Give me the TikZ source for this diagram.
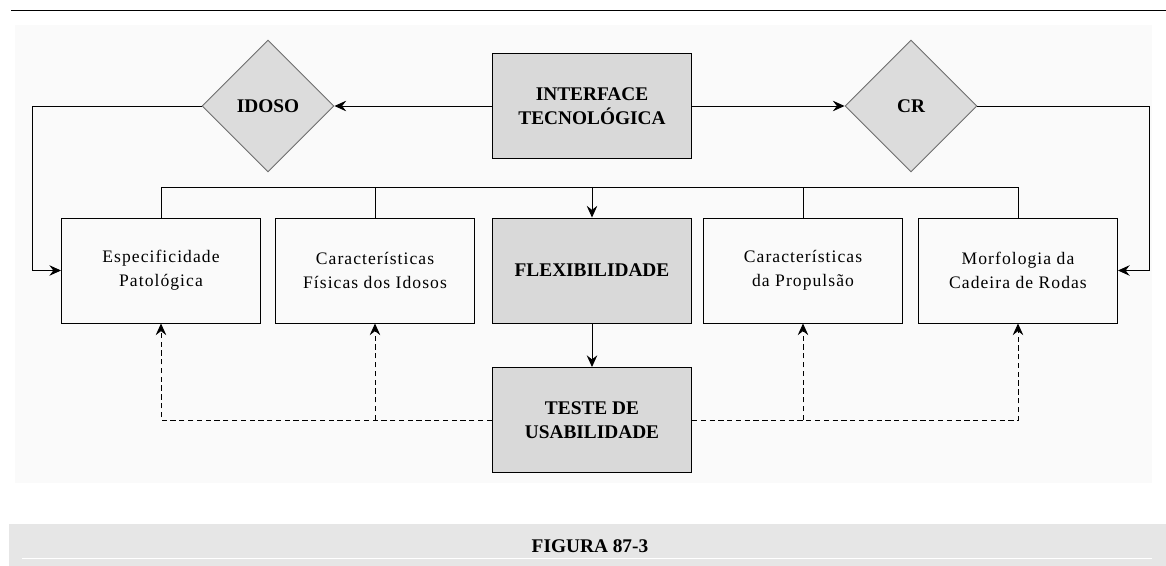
\documentclass[tikz,border=0pt]{standalone}
\usepackage{fontspec}
\setmainfont{Liberation Serif}
\newfontfamily\boxfont[LetterSpace=6]{Liberation Serif}
\usetikzlibrary{shapes.geometric,arrows.meta}
\definecolor{BoxGray}{HTML}{D9D9D9}
\definecolor{DiaFill}{HTML}{DCDCDC}
\definecolor{DiaEdge}{HTML}{6E6E6E}
\definecolor{CapGray}{HTML}{E6E6E6}

\begin{document}
\begin{tikzpicture}[
    x=0.03cm, y=-0.03cm,
    >={Stealth[length=10pt,width=9pt,inset=3.5pt]},
    line width=0.8pt,
    every node/.style={font=\boxfont\fontsize{15}{20.5}\selectfont},
    plain box/.style = {draw, rectangle, minimum width=5.97cm, minimum height=3.15cm, align=center, inner sep=2pt},
    grey box/.style  = {plain box, fill=BoxGray, font=\rmfamily\bfseries\fontsize{16.5}{21}\selectfont},
    decision/.style  = {draw=DiaEdge, diamond, fill=DiaFill, minimum width=3.96cm, minimum height=3.96cm, inner sep=0pt, font=\rmfamily\bfseries\fontsize{16.5}{21}\selectfont},
  ]
\useasboundingbox (0,0) rectangle (1166,566);

% background
\fill[black!2] (15,25) rectangle (1152,483);
\draw (11,10) -- (1166,10);

% top row
\node[grey box] (interface) at (592,106) {INTERFACE\\TECNOLÓGICA};
\node[decision] (idoso) at (268,106) {IDOSO};
\node[decision] (cr) at (911,106) {CR};

% middle row
\node[plain box] (espec)   at (161,270.5) {Especificidade\\Patológica};
\node[plain box] (fisicas) at (375,270.5) {Características\\Físicas dos Idosos};
\node[grey box]  (flex)    at (592,270.5) {FLEXIBILIDADE};
\node[plain box] (propul)  at (803,270.5) {Características\\da Propulsão};
\node[plain box] (morfo)   at (1018,270.5) {Morfologia da\\Cadeira de Rodas};

% bottom
\node[grey box] (teste) at (592,420) {TESTE DE\\USABILIDADE};

% turning points
\coordinate (leftturn)  at (32,106);
\coordinate (rightturn) at (1149,106);
\coordinate (bus)       at (592,187);

% connectors
\draw[->] (interface.west) -- (idoso.east);
\draw[->] (interface.east) -- (cr.west);
\draw[->] (idoso.west) -- (leftturn) |- (espec.west);
\draw[->] (cr.east) -- (rightturn) |- (morfo.east);

\draw (espec.north) -- (espec.north |- bus) -- (morfo.north |- bus) -- (morfo.north);
\draw (fisicas.north) -- (fisicas.north |- bus);
\draw (propul.north) -- (propul.north |- bus);
\draw[->] (bus) -- (flex.north);

\draw[->] (flex.south) -- (teste.north);

\draw[dashed, dash pattern=on 4.5pt off 3pt, ->] (teste.west) -| (espec.south);
\draw[dashed, dash pattern=on 4.5pt off 3pt, ->] (teste.west -| fisicas.south) -- (fisicas.south);
\draw[dashed, dash pattern=on 4.5pt off 3pt, ->] (teste.east) -| (morfo.south);
\draw[dashed, dash pattern=on 4.5pt off 3pt, ->] (teste.east -| propul.south) -- (propul.south);

% caption
\fill[CapGray] (9,524) rectangle (1166,566);
\draw[white, line width=0.6pt] (22,558) -- (1152,558);
\node[font=\rmfamily\bfseries\fontsize{16.5}{19}\selectfont] (caption) at (590,546) {FIGURA 87-3};
\end{tikzpicture}
\end{document}
